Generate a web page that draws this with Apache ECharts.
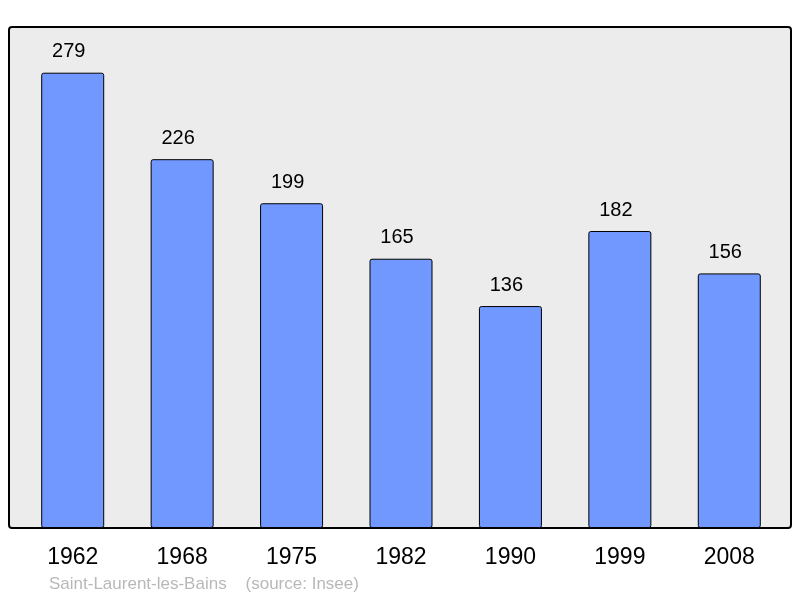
<!DOCTYPE html>
<html>
<head>
<meta charset="utf-8">
<script src="https://cdn.jsdelivr.net/npm/echarts@6/dist/echarts.min.js"></script>
<style>
  html, body { margin: 0; padding: 0; background: #fff; }
  #chart { width: 800px; height: 598px; }
</style>
</head>
<body>
<div id="chart"></div>
<script>
// population par recensement
const years = ['1962', '1968', '1975', '1982', '1990', '1999', '2008'];
const population = [279, 226, 199, 165, 136, 182, 156];

const myChart = echarts.init(document.getElementById('chart'));

myChart.setOption({
    animation: false,
    backgroundColor: '#fff',
    textStyle: { fontFamily: 'Liberation Sans' },
    graphic: [
        {
            type: 'rect',
            z: 0,
            shape: { x: 9, y: 27, width: 782, height: 501, r: 3 },
            style: { fill: '#ececec', stroke: '#000', lineWidth: 2 }
        },
        {
            type: 'text',
            left: 49,
            top: 576,
            style: {
                text: 'Saint-Laurent-les-Bains    (source: Insee)',
                fill: '#b8b8b8',
                font: '17px "Liberation Sans"'
            }
        }
    ],
    grid: { left: 18, right: 16, top: 27, bottom: 70 },
    xAxis: {
        type: 'category',
        data: years,
        axisLine: { show: false },
        axisTick: { show: false },
        axisLabel: { color: '#000', fontSize: 23, margin: 18 }
    },
    yAxis: {
        type: 'value',
        min: 0,
        max: 307,
        show: false,
        splitLine: { show: false }
    },
    series: [{
        type: 'bar',
        z: 2,
        data: population,
        barWidth: 63,
        itemStyle: {
            color: '#7098ff',
            borderColor: '#000',
            borderWidth: 1,
            borderRadius: 2
        },
        label: {
            show: true,
            position: 'top',
            distance: 11,
            offset: [-4, 0],
            color: '#000',
            fontSize: 20
        }
    }]
});
</script>
</body>
</html>
